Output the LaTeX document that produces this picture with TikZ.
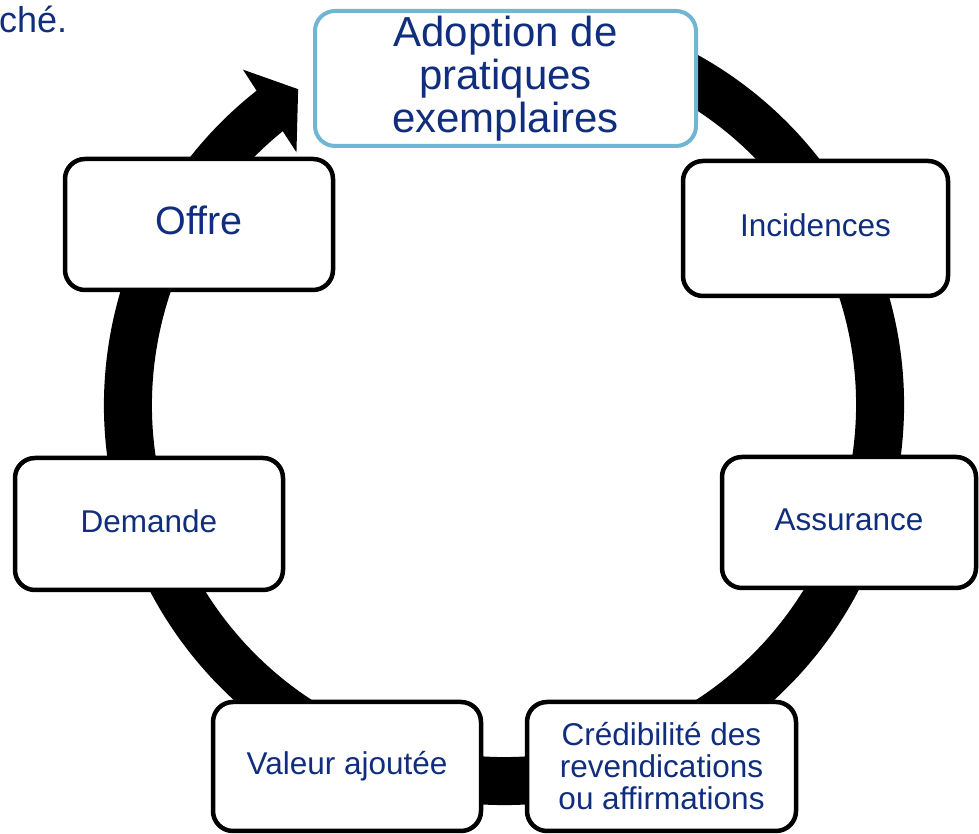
\documentclass[tikz,border=0pt]{standalone}
\usepackage{fontspec}
\setmainfont{Liberation Sans}
\usetikzlibrary{calc}
\definecolor{navy}{RGB}{16,46,125}
\definecolor{lightblue}{RGB}{110,182,210}
\begin{document}
\begin{tikzpicture}[x=1pt,y=1pt,
  box/.style={draw=black, line width=4.5pt, fill=white, rounded corners=20pt,
    text=navy, inner sep=0pt, align=center},
  smalltxt/.style={font=\fontsize{31.5}{32}\selectfont},
  onesmall/.style={smalltxt, text height=22.5pt, text depth=6pt},
  bigtxt/.style={font=\fontsize{42}{43}\selectfont},
  ring/.style={line width=48pt, draw=black},
]
\useasboundingbox (0,0) rectangle (979,834);
\coordinate (c) at (504,429);
% circular arrow
\draw[ring] ($(c)+(78:376)$) arc[start angle=78, end angle=-232, radius=376pt];
\fill[black] ($(c)+(127.9:425)$) -- ($(c)+(123.1:377)$) -- ($(c)+(129.4:327)$) -- cycle;
% boxes
\node[box, draw=lightblue, line width=4pt, minimum width=381pt, minimum height=135pt, bigtxt]
  (adopt) at (505.5,755.5) {Adoption de\\pratiques\\exemplaires};
\node[box, minimum width=268pt, minimum height=131pt, font=\fontsize{39.5}{43}\selectfont,
  text height=28pt, text depth=7pt] (offre) at (199,609.5) {Offre};
\node[box, onesmall, minimum width=265pt, minimum height=135pt] (incid) at (815.5,605.5) {Incidences};
\node[box, onesmall, minimum width=254pt, minimum height=131pt] (assur) at (849,311.5) {Assurance};
\node[box, onesmall, minimum width=268pt, minimum height=132pt] (dem) at (149,310) {Demande};
\node[box, onesmall, minimum width=268pt, minimum height=129pt] (val) at (347,67.5) {Valeur ajoutée};
\node[box, smalltxt, minimum width=269pt, minimum height=129pt] (cred) at (661.5,67.5)
  {Crédibilité des\\revendications\\ou affirmations};
% clipped text from previous line
\node[anchor=base west, text=navy, font=\fontsize{36}{40}\selectfont, inner sep=0pt]
  (tail) at (-1,801) {ché.};
\end{tikzpicture}
\end{document}
